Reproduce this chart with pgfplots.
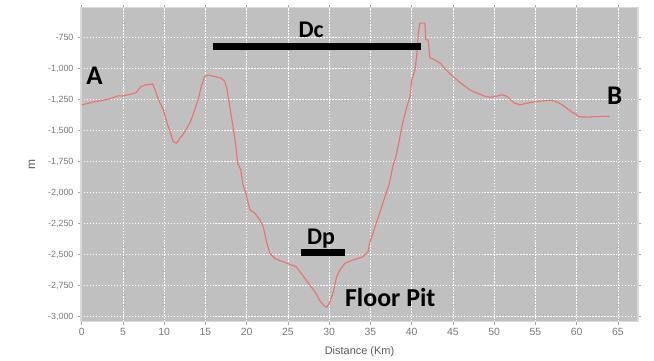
\documentclass[border=0pt]{standalone}
\usepackage{pgfplots}
\pgfplotsset{compat=1.18}
\usepackage{fontspec}
\setmainfont{Liberation Sans}
\newfontfamily\annot{Carlito}
\definecolor{curvecol}{RGB}{236,112,112}
\definecolor{bg}{RGB}{192,192,192}
\definecolor{ticktext}{RGB}{120,120,120}
\begin{document}
\begin{tikzpicture}
\begin{axis}[
  scale only axis, width=557bp, height=314bp,
  xmin=-0.085, xmax=67.43, ymin=-3040, ymax=-510,
  axis background/.style={fill=bg},
  xtick={0,5,...,65}, ytick={-3000,-2750,...,-750},
  grid=major,
  grid style={white, line width=0.6pt, dash pattern=on 1.5pt off 1.5pt},
  axis line style={black!15, line width=1.5pt},
  tick style={black!35, line width=0.5pt},
  tick align=outside, major tick length=3bp,
  /pgf/number format/.cd, 1000 sep={,}, assume math mode=true,
  /pgfplots/.cd,
  xticklabel style={font=\fontsize{10.5}{10.5}\selectfont, text=ticktext},
  yticklabel style={font=\fontsize{9}{9}\selectfont, text=ticktext, xshift=-1bp},
  xlabel={Distance (Km)}, ylabel={m},
  xlabel style={at={(axis description cs:0.5,0)}, anchor=center, yshift=-30bp, font=\fontsize{11}{11}\selectfont, text=black!65},
  ylabel style={at={([xshift=-49bp]axis description cs:0,0.5)}, anchor=center, font=\fontsize{12}{12}\selectfont, text=black!65},
]
\addplot[draw=curvecol, line width=1.1bp, sharp plot, line join=round, mark=none] table {
x y
0 -1293
0.8 -1280
1.6 -1266
2.4 -1258
3.2 -1247
3.8 -1235
4.4 -1220
5.0 -1222
5.6 -1212
6.1 -1205
6.6 -1193
7.0 -1160
7.2 -1145
7.8 -1131
8.3 -1128
8.6 -1123
8.9 -1172
9.2 -1230
9.5 -1279
9.9 -1333
10.3 -1427
10.7 -1508
11.1 -1589
11.5 -1602
11.9 -1561
12.2 -1540
12.5 -1508
13.1 -1440
13.4 -1390
13.7 -1333
14.1 -1252
14.5 -1145
14.9 -1064
15.3 -1051
15.7 -1058
16.1 -1064
16.5 -1071
16.9 -1078
17.3 -1100
17.6 -1160
17.9 -1290
18.1 -1370
18.3 -1450
18.5 -1540
18.7 -1629
18.9 -1763
19.3 -1817
19.5 -1924
19.9 -2005
20.2 -2090
20.4 -2140
21.0 -2166
21.6 -2220
22.0 -2274
22.4 -2395
22.8 -2489
23.4 -2529
24.0 -2548
24.4 -2557
25.0 -2572
25.4 -2583
26.0 -2597
26.6 -2650
27.2 -2704
27.8 -2758
28.4 -2811
28.8 -2865
29.3 -2906
29.7 -2924
30.1 -2880
30.5 -2800
30.9 -2677
31.3 -2623
31.9 -2570
32.4 -2555
32.9 -2543
33.5 -2530
34.1 -2516
34.7 -2476
34.9 -2408
35.3 -2328
35.7 -2247
36.1 -2166
36.5 -2086
36.9 -2005
37.3 -1924
37.7 -1790
38.1 -1710
38.5 -1575
38.9 -1440
39.3 -1333
39.8 -1226
40.0 -1091
40.4 -1010
40.6 -903
40.8 -715
41.0 -634
41.6 -634
41.7 -769
42.0 -769
42.2 -914
42.8 -930
43.5 -960
44.0 -1000
44.6 -1040
45.2 -1075
45.8 -1110
46.4 -1140
47.0 -1170
47.6 -1190
48.2 -1205
48.8 -1222
49.5 -1231
50.2 -1225
50.9 -1212
51.3 -1218
51.7 -1231
52.1 -1260
52.5 -1279
53.1 -1293
53.9 -1280
54.7 -1270
55.4 -1265
56.0 -1260
56.9 -1255
57.4 -1265
57.9 -1279
58.4 -1300
58.8 -1320
59.3 -1345
59.8 -1365
60.2 -1385
60.6 -1390
61.5 -1392
62.0 -1387
62.7 -1387
63.4 -1385
64.0 -1387
};
\addplot[black, line width=7bp] coordinates {(15.9,-823) (41.1,-823)};
\addplot[black, line width=7bp] coordinates {(26.6,-2486) (31.9,-2486)};
\node[anchor=base, font=\annot\bfseries\fontsize{27}{27}\selectfont, inner sep=0pt] at (axis cs:1.55,-1131) {A};
\node[anchor=base, font=\annot\bfseries\fontsize{27}{27}\selectfont, inner sep=0pt] at (axis cs:64.6,-1293) {B};
\node[anchor=base, font=\annot\bfseries\fontsize{24}{24}\selectfont, inner sep=0pt] at (axis cs:27.8,-750) {Dc};
\node[anchor=base, font=\annot\bfseries\fontsize{24}{24}\selectfont, inner sep=0pt] at (axis cs:29.0,-2422) {Dp};
\node[anchor=base west, font=\annot\bfseries\fontsize{26}{26}\selectfont, inner sep=0pt] at (axis cs:31.9,-2919) {Floor Pit};
\end{axis}
\path (current axis.south west) ++(-81bp,-39.3bp) rectangle ++(654bp,361bp);
\end{tikzpicture}
\end{document}
